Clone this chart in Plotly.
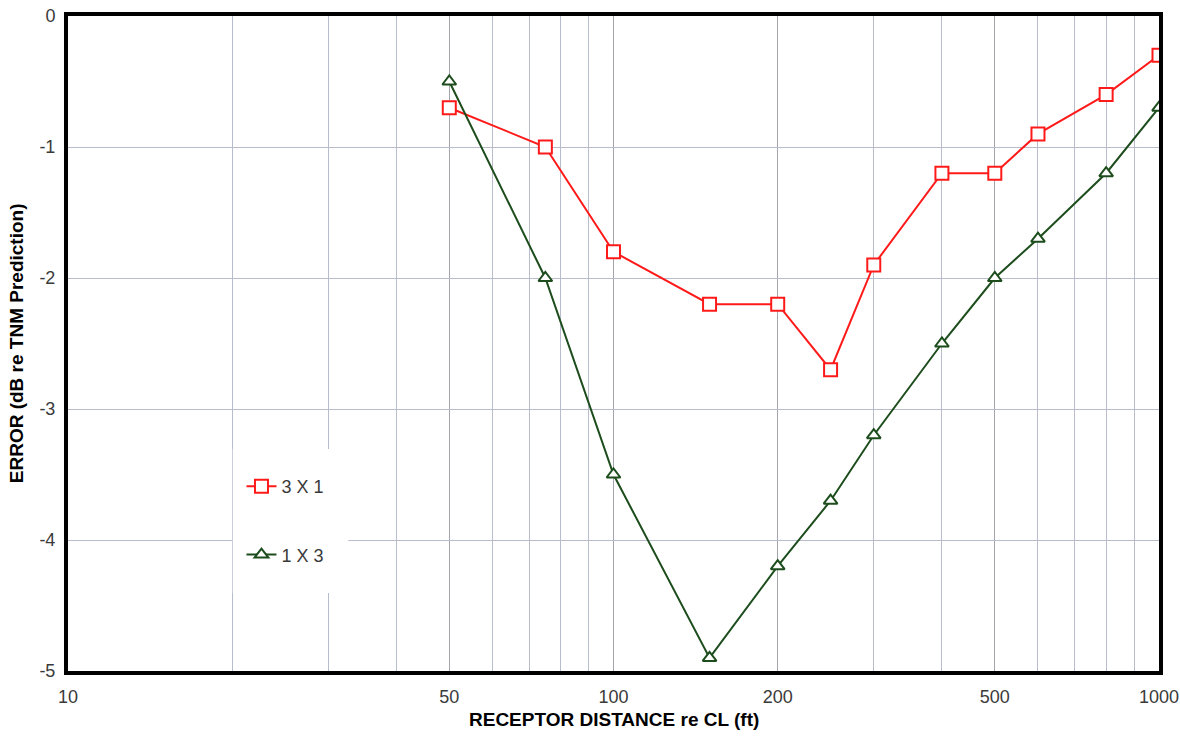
import plotly.graph_objects as go

# Receptor distances (ft) and prediction error (dB) for the two barrier layouts
distance_ft = [50, 75, 100, 150, 200, 250, 300, 400, 500, 600, 800, 1000]
error_3x1 = [-0.7, -1.0, -1.8, -2.2, -2.2, -2.7, -1.9, -1.2, -1.2, -0.9, -0.6, -0.3]
error_1x3 = [-0.5, -2.0, -3.5, -4.9, -4.2, -3.7, -3.2, -2.5, -2.0, -1.7, -1.2, -0.7]

x_label_vals = [10, 50, 100, 200, 500, 1000]
x_label_text = ["10", "50", "100", "200", "500", "1000"]
x_grid_vals = [20, 30, 40, 60, 70, 80, 90, 300, 400, 600, 700, 800, 900]
x_tick_vals = [10, 50, 200, 500, 1000]
y_label_vals = [0, -1, -2, -3, -4, -5]
y_label_text = ["0", "-1", "-2", "-3", "-4", "-5"]

RED = "#ff1a1a"
GREEN = "#1d4d1d"
GRID = "#b8bccc"
GRID_MAJOR = "#a4a6ae"
FONT = "Liberation Sans, Arial, sans-serif"

fig = go.Figure()

fig.add_trace(go.Scatter(
    x=distance_ft, y=error_3x1, mode="lines+markers", name="3 X 1",
    legendgroup="a",
    line=dict(color=RED, width=2),
    marker=dict(symbol="square", size=13, color="white",
                line=dict(color=RED, width=2)),
))
fig.add_trace(go.Scatter(
    x=distance_ft, y=error_1x3, mode="lines+markers", name="1 X 3",
    legendgroup="b",
    line=dict(color=GREEN, width=2),
    marker=dict(symbol="triangle-up", size=12, color="white",
                line=dict(color=GREEN, width=2)),
))

tick_axis = dict(showline=False, zeroline=False, showticklabels=False,
                 showgrid=False, automargin=False, ticklen=5, tickwidth=2,
                 tickcolor="black")

fig.update_layout(
    width=1180, height=743,
    margin=dict(l=68, r=21, t=16, b=72, autoexpand=False),
    paper_bgcolor="white", plot_bgcolor="white",
    font=dict(family=FONT, size=18, color="#3a3a3a"),
    showlegend=True,
    legend=dict(x=0.159, y=0.31, xanchor="left", yanchor="top",
                bgcolor="rgba(255,255,255,0)", borderwidth=0,
                tracegroupgap=42,
                font=dict(family=FONT, size=18, color="#3a3a3a")),
    xaxis=dict(
        type="log", range=[1, 3], automargin=False,
        tickvals=x_label_vals, ticktext=x_label_text, ticks="",
        ticklabelstandoff=6,
        showgrid=True, gridcolor=GRID_MAJOR, gridwidth=1,
        minor=dict(tickvals=x_grid_vals, showgrid=True, gridcolor=GRID,
                   gridwidth=1, ticks=""),
        showline=True, linecolor="black", linewidth=4, mirror=True,
        zeroline=False,
    ),
    xaxis2=dict(type="log", range=[1, 3], overlaying="x", matches="x",
                anchor="y", tickvals=x_tick_vals, ticks="outside",
                **tick_axis),
    xaxis3=dict(type="log", range=[1, 3], overlaying="x", matches="x",
                anchor="y", tickvals=x_tick_vals, ticks="inside",
                **tick_axis),
    yaxis=dict(
        range=[-5, 0], automargin=False,
        tickvals=y_label_vals, ticktext=y_label_text, ticks="",
        ticklabelstandoff=5,
        showgrid=True, gridcolor=GRID, gridwidth=1,
        showline=True, linecolor="black", linewidth=4, mirror=True,
        zeroline=False,
    ),
    yaxis2=dict(range=[-5, 0], overlaying="y", matches="y", anchor="x",
                dtick=0.5, ticks="outside", **tick_axis),
    yaxis3=dict(range=[-5, 0], overlaying="y", matches="y", anchor="x",
                dtick=0.5, ticks="inside", **tick_axis),
)

# White panel behind the legend, hiding the grid there
fig.add_shape(type="rect", xref="paper", yref="paper",
              x0=0.151, x1=0.257, y0=0.119, y1=0.339,
              fillcolor="white", line=dict(width=0), layer="above")

# Axis titles
fig.add_annotation(text="<b>RECEPTOR DISTANCE re CL (ft)</b>",
                   xref="paper", yref="paper", x=0.5, y=-0.0735,
                   xanchor="center", yanchor="middle", showarrow=False,
                   font=dict(family=FONT, size=19, color="black"))
fig.add_annotation(text="<b>ERROR (dB re TNM Prediction)</b>",
                   xref="paper", yref="paper", x=-0.047, y=0.5,
                   xanchor="center", yanchor="middle", showarrow=False,
                   textangle=-90,
                   font=dict(family=FONT, size=19, color="black"))

fig.write_html("out.html")
